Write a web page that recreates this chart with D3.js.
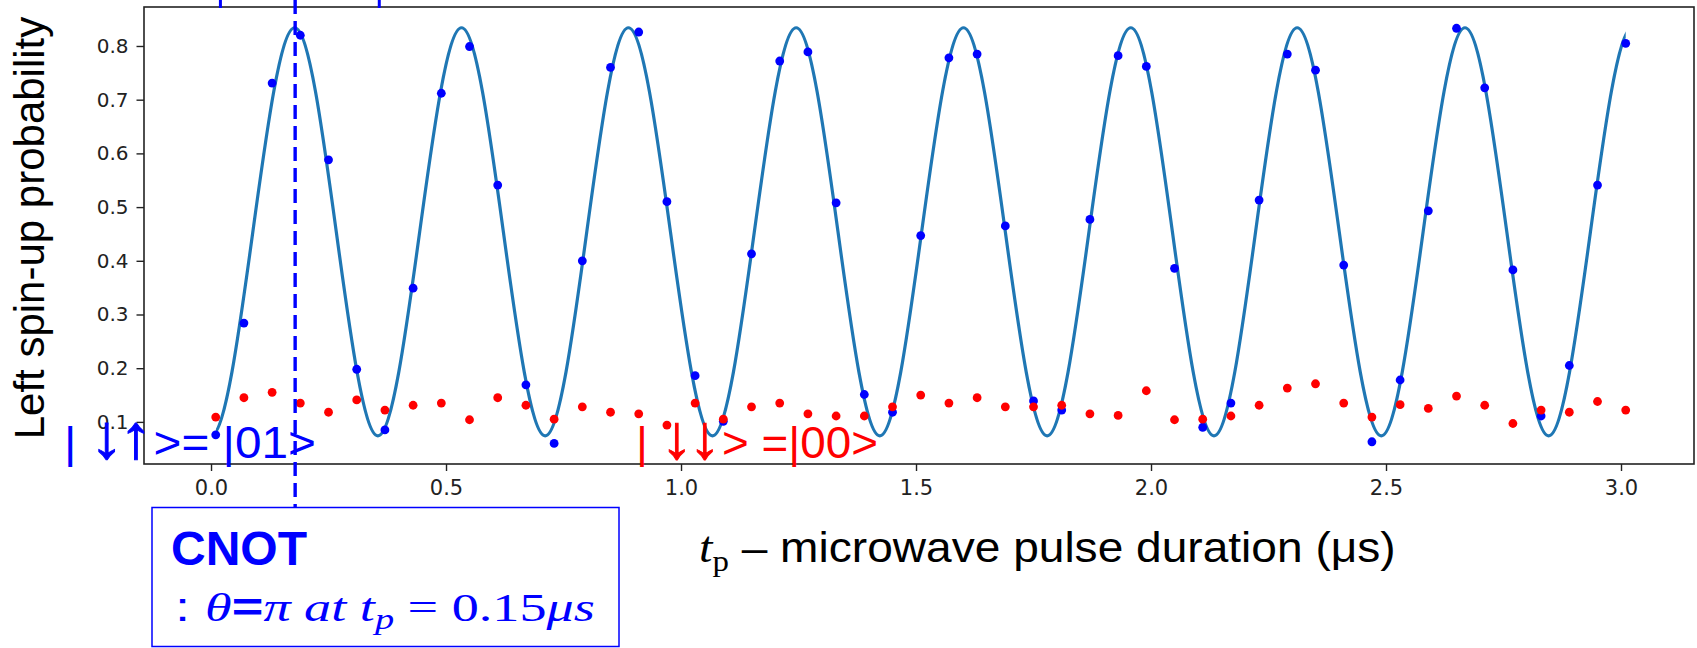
<!DOCTYPE html>
<html>
<head>
<meta charset="utf-8">
<script src="https://cdn.jsdelivr.net/npm/d3@7"></script>
<style>
  body { margin: 0; background: #fff; }
  svg { display: block; }
</style>
</head>
<body>
<svg id="chart" width="1697" height="648"></svg>
<script>
// pulse durations of the measured points (us)
var pulseTimes = [0.01, 0.07, 0.13, 0.19, 0.25, 0.31, 0.37, 0.43, 0.49, 0.55,
  0.61, 0.67, 0.73, 0.79, 0.85, 0.91, 0.97, 1.03, 1.09, 1.15,
  1.21, 1.27, 1.33, 1.39, 1.45, 1.51, 1.57, 1.63, 1.69, 1.75,
  1.81, 1.87, 1.93, 1.99, 2.05, 2.11, 2.17, 2.23, 2.29, 2.35,
  2.41, 2.47, 2.53, 2.59, 2.65, 2.71, 2.77, 2.83, 2.89, 2.95, 3.01];

// left spin-up probability, |01> start state (blue dots)
var probFrom01 = [0.076, 0.284, 0.731, 0.820, 0.588, 0.198, 0.085, 0.349, 0.712, 0.799,
  0.541, 0.169, 0.060, 0.400, 0.760, 0.826, 0.510, 0.186, 0.101, 0.413,
  0.772, 0.789, 0.508, 0.151, 0.118, 0.447, 0.778, 0.785, 0.465, 0.139,
  0.122, 0.477, 0.782, 0.762, 0.386, 0.090, 0.135, 0.513, 0.785, 0.755,
  0.392, 0.063, 0.178, 0.493, 0.833, 0.722, 0.383, 0.111, 0.205, 0.541, 0.805];

// left spin-up probability, |00> start state (red dots)
var probFrom00 = [0.109, 0.145, 0.155, 0.135, 0.118, 0.141, 0.122, 0.131, 0.135, 0.104,
  0.145, 0.131, 0.105, 0.128, 0.118, 0.115, 0.094, 0.135, 0.105, 0.128,
  0.135, 0.115, 0.111, 0.111, 0.128, 0.150, 0.135, 0.145, 0.128, 0.128,
  0.131, 0.115, 0.112, 0.158, 0.104, 0.105, 0.111, 0.131, 0.163, 0.171,
  0.135, 0.109, 0.132, 0.125, 0.148, 0.131, 0.097, 0.122, 0.118, 0.138, 0.122];

// fitted oscillation: its peaks and troughs
// (first and last ones sit just outside the measured range and get clipped)
var fitTimes = [-0.178, 0.000, 0.178, 0.355, 0.533, 0.711, 0.888, 1.067, 1.245, 1.423,
  1.601, 1.779, 1.957, 2.134, 2.311, 2.490, 2.668, 2.846, 3.024, 3.202];
var fitValues = [0.834, 0.074, 0.834, 0.074, 0.834, 0.074, 0.834, 0.074, 0.834, 0.074,
  0.834, 0.074, 0.834, 0.074, 0.834, 0.074, 0.834, 0.074, 0.834, 0.074];

var cnotTime = 0.179;

var xTickValues = [0.0, 0.5, 1.0, 1.5, 2.0, 2.5, 3.0];
var xTickLabels = ["0.0", "0.5", "1.0", "1.5", "2.0", "2.5", "3.0"];
var yTickValues = [0.1, 0.2, 0.3, 0.4, 0.5, 0.6, 0.7, 0.8];
var yTickLabels = ["0.1", "0.2", "0.3", "0.4", "0.5", "0.6", "0.7", "0.8"];

var svg = d3.select("#chart");

var x = d3.scaleLinear().domain([-0.1426, 3.1553]).range([144, 1694]);
var y = d3.scaleLinear().domain([0.0216, 0.8726]).range([464, 7]);

// stretch a text horizontally so it spans the given width
function fitWidth(sel, x0, y0, width) {
  var w = sel.node().getBBox().width;
  sel.attr("transform", "translate(" + x0 + "," + y0 + ") scale(" + (width / w) + ",1)");
}

// axes
var xAxis = svg.append("g")
    .attr("transform", "translate(0,464)")
    .call(d3.axisBottom(x).tickValues(xTickValues)
      .tickFormat(function(d, i) { return xTickLabels[i]; })
      .tickSize(7).tickPadding(9));
var yAxis = svg.append("g")
    .attr("transform", "translate(144,0)")
    .call(d3.axisLeft(y).tickValues(yTickValues)
      .tickFormat(function(d, i) { return yTickLabels[i]; })
      .tickSize(7.5).tickPadding(8));
[xAxis, yAxis].forEach(function(g) {
  g.select(".domain").remove();
  g.selectAll("line").attr("stroke", "#222").attr("stroke-width", 1.4);
  g.selectAll("text").attr("fill", "#222")
    .style("font-family", "'DejaVu Sans'").style("font-size", "20px");
});
xAxis.selectAll("text").style("font-size", "21px");

svg.append("rect")
    .attr("x", 144).attr("y", 7).attr("width", 1550).attr("height", 457)
    .attr("fill", "none").attr("stroke", "#222").attr("stroke-width", 1.6);

// fit curve, clipped to the measured range
svg.append("clipPath").attr("id", "fitclip")
  .append("rect")
    .attr("x", x(d3.min(pulseTimes))).attr("y", 0)
    .attr("width", x(d3.max(pulseTimes)) - x(d3.min(pulseTimes))).attr("height", 648);

var fitLine = d3.line()
    .x(function(d, i) { return x(fitTimes[i]); })
    .y(function(d) { return y(d); })
    .curve(d3.curveMonotoneX);

svg.append("path")
    .attr("clip-path", "url(#fitclip)")
    .attr("d", fitLine(fitValues))
    .attr("fill", "none")
    .attr("stroke", "#1f77b4")
    .attr("stroke-width", 3.2);

svg.append("g").selectAll("circle")
    .data(probFrom01)
  .enter().append("circle")
    .attr("cx", function(d, i) { return x(pulseTimes[i]); })
    .attr("cy", function(d) { return y(d); })
    .attr("r", 4.4)
    .attr("fill", "#0000ff");

svg.append("g").selectAll("circle")
    .data(probFrom00)
  .enter().append("circle")
    .attr("cx", function(d, i) { return x(pulseTimes[i]); })
    .attr("cy", function(d) { return y(d); })
    .attr("r", 4.4)
    .attr("fill", "#ff0000");

// axis titles
svg.append("text")
    .attr("transform", "translate(44,228) rotate(-90)")
    .attr("text-anchor", "middle")
    .style("font-family", "'Liberation Sans', Arial, sans-serif")
    .style("font-size", "42px")
    .attr("fill", "#000")
    .text("Left spin-up probability");

var xTitle = svg.append("text")
    .style("font-family", "'Liberation Sans', Arial, sans-serif")
    .style("font-size", "42px")
    .attr("fill", "#000");
xTitle.append("tspan")
    .style("font-family", "'Liberation Serif', serif").style("font-style", "italic")
    .style("font-size", "44px").text("t");
xTitle.append("tspan")
    .style("font-family", "'Liberation Serif', serif")
    .style("font-size", "30px").attr("dy", 9).text("p");
xTitle.append("tspan").attr("dy", -9).text(" \u2013 microwave pulse duration (\u03bcs)");
fitWidth(xTitle, 699, 562, 697);

// state annotations: bar, arrows (drawn larger), then the rest
function ketLabel(bar, arrows, rest, colour, x0, width) {
  var t = svg.append("text")
      .style("font-family", "'Liberation Sans', Arial, sans-serif")
      .style("font-size", "44px")
      .attr("fill", colour);
  t.append("tspan").text(bar);
  t.append("tspan").style("font-size", "62px")
      .style("letter-spacing", "-4px")
      .attr("stroke", colour).attr("stroke-width", 0.9)
      .text(arrows);
  t.append("tspan").attr("dx", 5).text(rest);
  fitWidth(t, x0, 458, width);
}
ketLabel("| ", "\u2193\u2191", ">= |01>", "#0000ff", 64, 252);
ketLabel("| ", "\u2193\u2193", "> =|00>", "#ff0000", 636, 242);

// ends of a box cut off at the top edge
[0.02, 0.358].forEach(function(t) {
  svg.append("line")
      .attr("x1", x(t)).attr("x2", x(t)).attr("y1", 0).attr("y2", 8)
      .attr("stroke", "#0000ff").attr("stroke-width", 3);
});

// CNOT box
svg.append("rect")
    .attr("x", 152).attr("y", 507.5).attr("width", 467).attr("height", 139)
    .attr("fill", "#fff").attr("stroke", "#0000ff").attr("stroke-width", 1.5);

svg.append("line")
    .attr("x1", x(cnotTime)).attr("x2", x(cnotTime))
    .attr("y1", 0).attr("y2", 507)
    .attr("stroke", "#0000ff").attr("stroke-width", 3.4)
    .attr("stroke-dasharray", "14,7");

svg.append("text")
    .attr("x", 171).attr("y", 565)
    .style("font-family", "'Liberation Sans', Arial, sans-serif")
    .style("font-size", "48px").style("font-weight", "bold")
    .attr("fill", "#0000ff")
    .text("CNOT");

var cnotNote = svg.append("text")
    .style("font-family", "'Liberation Serif', serif")
    .style("font-size", "41px")
    .attr("fill", "#0000ff");
cnotNote.append("tspan").style("font-family", "'Liberation Sans', sans-serif").text(": ");
cnotNote.append("tspan").style("font-style", "italic").text("\u03b8");
cnotNote.append("tspan").style("font-family", "'Liberation Sans', sans-serif")
    .style("font-weight", "bold").text("=");
cnotNote.append("tspan").style("font-style", "italic").text("\u03c0 at t");
cnotNote.append("tspan").style("font-style", "italic").style("font-size", "29px")
    .attr("dy", 8).text("p");
cnotNote.append("tspan").attr("dy", -8).text(" = 0.15");
cnotNote.append("tspan").style("font-style", "italic").text("\u03bcs");
fitWidth(cnotNote, 175, 621, 420);
</script>
</body>
</html>
